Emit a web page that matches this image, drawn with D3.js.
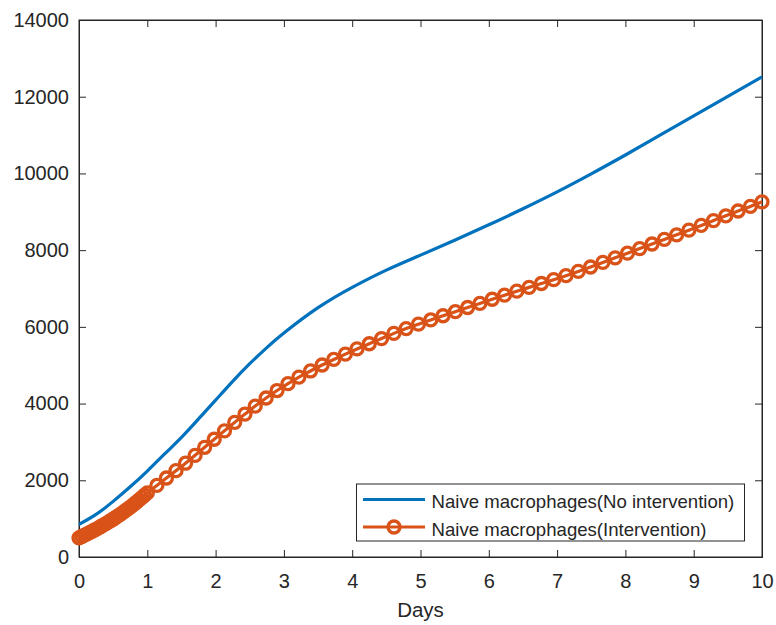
<!DOCTYPE html>
<html>
<head>
<meta charset="utf-8">
<script src="https://cdn.jsdelivr.net/npm/d3@7/dist/d3.min.js"></script>
<style>
  html, body { margin: 0; padding: 0; background: #ffffff; }
  svg { display: block; }
  text { font-family: "Liberation Sans", Arial, Helvetica, sans-serif; fill: #262626; }
</style>
</head>
<body>
<svg id="chart" width="776" height="625"></svg>
<script>
// ---------------- DATA ----------------
const xTicks = [0, 1, 2, 3, 4, 5, 6, 7, 8, 9, 10];
const yTicks = [0, 2000, 4000, 6000, 8000, 10000, 12000, 14000];
const xLabel = "Days";
const seriesNames = ["Naive macrophages(No intervention)", "Naive macrophages(Intervention)"];

// No intervention (solid blue line)
const daysNoInt = [0, 0.25, 0.5, 0.75, 1.0, 1.25, 1.5, 1.75, 2.0, 2.25, 2.5, 2.75, 3.0,
                   3.5, 4.0, 4.5, 5.0, 5.5, 6.0, 6.5, 7.0, 7.5, 8.0, 8.5, 9.0, 9.5, 10.0];
const valuesNoInt = [850, 1110, 1450, 1830, 2240, 2680, 3120, 3600, 4090, 4580, 5040, 5460, 5840,
                     6500, 7030, 7480, 7870, 8260, 8660, 9080, 9520, 9990, 10480, 10990, 11500, 12010, 12520];

// Intervention (orange line with circle markers at every solver step)
const daysInt = [0, 0.04, 0.08, 0.12, 0.16, 0.20, 0.24, 0.28, 0.32, 0.36, 0.40, 0.44, 0.48,
                 0.52, 0.56, 0.60, 0.64, 0.68, 0.72, 0.76, 0.80, 0.84, 0.88, 0.92, 0.96, 1.00,
                 1.14, 1.28, 1.42, 1.56, 1.70, 1.84, 1.98, 2.13, 2.28, 2.43, 2.58, 2.74, 2.90,
                 3.06, 3.22, 3.39, 3.56, 3.73, 3.90, 4.07, 4.25, 4.43, 4.61, 4.79, 4.97,
                 5.15, 5.33, 5.51, 5.69, 5.87, 6.05, 6.23, 6.41, 6.59, 6.77, 6.95,
                 7.13, 7.31, 7.49, 7.67, 7.85, 8.03, 8.21, 8.39, 8.57, 8.75, 8.93,
                 9.11, 9.29, 9.47, 9.65, 9.83, 10.00];
const valuesInt = [500, 535, 570, 605, 641, 678, 716, 755, 795, 836, 878, 921, 965,
                   1011, 1058, 1106, 1156, 1207, 1260, 1314, 1370, 1428, 1487, 1548, 1610, 1670,
                   1865, 2060, 2250, 2445, 2650, 2860, 3070, 3290, 3510, 3725, 3935, 4145, 4340,
                   4520, 4690, 4850, 5005, 5150, 5290, 5425, 5560, 5695, 5830, 5955, 6070,
                   6180, 6290, 6395, 6505, 6610, 6720, 6825, 6930, 7030, 7130, 7230,
                   7335, 7445, 7560, 7680, 7800, 7920, 8040, 8160, 8280, 8400, 8520,
                   8645, 8770, 8895, 9020, 9140, 9260];

// ---------------- CHART ----------------
const svg = d3.select("#chart");
const L = 79, R = 762, T = 20, B = 557;
const axisColor = "#262626";
const blue = "#0072BD", orange = "#D95319";
const tickLen = 7;

const x = d3.scaleLinear().domain([0, 10]).range([L, R]);
const y = d3.scaleLinear().domain([0, 14000]).range([B, T]);

// Axes box
svg.append("rect").attr("x", L).attr("y", T).attr("width", R - L).attr("height", B - T)
  .attr("fill", "#ffffff").attr("stroke", axisColor).attr("stroke-width", 1);

const xAxis = d3.axisBottom(x).tickValues(xTicks).tickSize(-tickLen).tickPadding(tickLen + 10)
  .tickFormat(d3.format("d"));
const gx = svg.append("g").attr("transform", `translate(0,${B})`).call(xAxis);
const yAxis = d3.axisLeft(y).tickValues(yTicks).tickSize(-tickLen).tickPadding(tickLen + 3)
  .tickFormat(d3.format("d"));
const gy = svg.append("g").attr("transform", `translate(${L},0)`).call(yAxis);
const xTop = d3.axisTop(x).tickValues(xTicks).tickSize(-tickLen).tickFormat("");
const gxt = svg.append("g").attr("transform", `translate(0,${T})`).call(xTop);
const yRight = d3.axisRight(y).tickValues(yTicks).tickSize(-tickLen).tickFormat("");
const gyr = svg.append("g").attr("transform", `translate(${R},0)`).call(yRight);

[gx, gy, gxt, gyr].forEach(g => {
  g.select(".domain").attr("stroke", axisColor).attr("stroke-width", 1);
  g.selectAll(".tick line").attr("stroke", axisColor).attr("stroke-width", 1);
  g.selectAll(".tick text").attr("fill", axisColor)
    .style("font-family", '"Liberation Sans", Arial, sans-serif')
    .style("font-size", "20px");
});
gx.selectAll(".tick text").attr("dy", "0.71em");

svg.append("text").attr("x", (L + R) / 2).attr("y", 617).attr("text-anchor", "middle")
  .style("font-size", "20.5px").text(xLabel);

// Lines
const dataNoInt = daysNoInt.map((d, i) => ({ t: d, v: valuesNoInt[i] }));
const dataInt = daysInt.map((d, i) => ({ t: d, v: valuesInt[i] }));
const lineSmooth = d3.line().x(d => x(d.t)).y(d => y(d.v)).curve(d3.curveNatural);
const lineSteps = d3.line().x(d => x(d.t)).y(d => y(d.v)).curve(d3.curveMonotoneX);

svg.append("path").datum(dataNoInt).attr("d", lineSmooth)
  .attr("fill", "none").attr("stroke", blue).attr("stroke-width", 3.2).attr("stroke-linejoin", "round");

svg.append("path").datum(dataInt).attr("d", lineSteps)
  .attr("fill", "none").attr("stroke", orange).attr("stroke-width", 3.2).attr("stroke-linejoin", "round");

svg.append("g").selectAll("circle").data(dataInt).join("circle")
  .attr("cx", d => x(d.t)).attr("cy", d => y(d.v)).attr("r", 6)
  .attr("fill", "none").attr("stroke", orange).attr("stroke-width", 3.3);

// Legend
const lg = svg.append("g");
lg.append("rect").attr("x", 356.5).attr("y", 484).attr("width", 388).attr("height", 57)
  .attr("fill", "#ffffff").attr("stroke", axisColor).attr("stroke-width", 1);
const rows = [
  { name: seriesNames[0], color: blue, marker: false, yy: 499.5 },
  { name: seriesNames[1], color: orange, marker: true, yy: 527 }
];
rows.forEach(r => {
  lg.append("line").attr("x1", 363).attr("x2", 425).attr("y1", r.yy).attr("y2", r.yy)
    .attr("stroke", r.color).attr("stroke-width", 3.2);
  if (r.marker) {
    lg.append("circle").attr("cx", 394).attr("cy", r.yy).attr("r", 6)
      .attr("fill", "none").attr("stroke", r.color).attr("stroke-width", 3.3);
  }
  lg.append("text").attr("x", 431.5).attr("y", r.yy + 8.5)
    .style("font-size", "18.6px").text(r.name);
});
</script>
</body>
</html>
